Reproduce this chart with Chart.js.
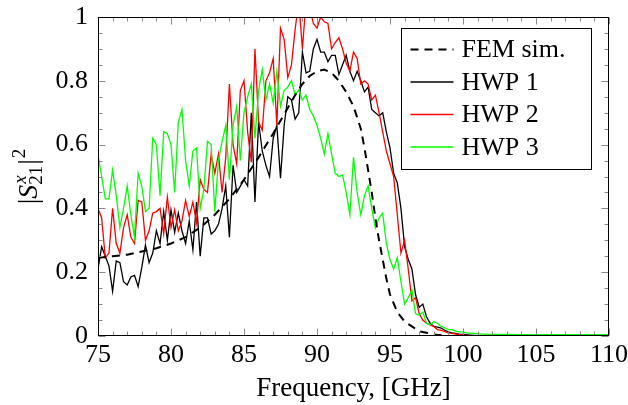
<!DOCTYPE html>
<html>
<head>
<meta charset="utf-8">
<script src="https://cdn.jsdelivr.net/npm/chart.js@4.4.1/dist/chart.umd.min.js"></script>
<style>
  html, body { margin: 0; padding: 0; background: #fff; }
  #wrap { width: 628px; height: 405px; }
</style>
</head>
<body>
<div id="wrap"><canvas id="s21_chart" width="628" height="405"></canvas></div>
<script>
// measured frequency grid, GHz
var freq = [
  75, 75.25, 75.5, 75.75, 76, 76.25, 76.5, 76.75, 77, 77.25, 77.5, 77.75,
  78, 78.25, 78.5, 78.75, 79, 79.25, 79.5, 79.75, 80, 80.25, 80.5, 80.75,
  81, 81.25, 81.5, 81.75, 82, 82.25, 82.5, 82.75, 83, 83.25, 83.5, 83.75,
  84, 84.25, 84.5, 84.75, 85, 85.25, 85.5, 85.75, 86, 86.25, 86.5, 86.75,
  87, 87.25, 87.5, 87.75, 88, 88.25, 88.5, 88.75, 89, 89.25, 89.5, 89.75,
  90, 90.25, 90.5, 90.75, 91, 91.25, 91.5, 91.75, 92, 92.25, 92.5, 92.75,
  93, 93.25, 93.5, 93.75, 94, 94.25, 94.5, 94.75, 95, 95.25, 95.5, 95.75,
  96, 96.25, 96.5, 96.75, 97, 97.25, 97.5, 97.75, 98, 98.25, 98.5, 98.75,
  99, 99.25, 99.5, 99.75, 100, 100.25, 100.5, 100.75, 101, 101.25, 101.5, 101.75,
  102, 103, 104, 105, 106, 107, 108, 109, 110
];

// |S21x|^2, HWP 1 (black)
var hwp1 = [
  0.21, 0.28, 0.25, 0.22, 0.14, 0.235, 0.23, 0.17, 0.16, 0.185, 0.19, 0.155,
  0.215, 0.285, 0.23, 0.26, 0.33, 0.29, 0.39, 0.30, 0.395, 0.325, 0.385, 0.33,
  0.29, 0.36, 0.27, 0.42, 0.25, 0.37, 0.37, 0.32, 0.33, 0.35, 0.40, 0.47,
  0.31, 0.535, 0.45, 0.47, 0.49, 0.47, 0.70, 0.42, 0.67, 0.58, 0.535, 0.50,
  0.62, 0.66, 0.495, 0.66, 0.75, 0.74, 0.68, 0.70, 0.89, 0.825, 0.83, 0.90,
  0.93, 0.89, 0.89, 0.86, 0.88, 0.88, 0.82, 0.85, 0.88, 0.83, 0.80, 0.83,
  0.80, 0.765, 0.78, 0.71, 0.70, 0.69, 0.70, 0.64, 0.59, 0.51, 0.48, 0.40,
  0.28, 0.24, 0.21, 0.13, 0.09, 0.10, 0.06, 0.04, 0.03, 0.028, 0.025, 0.018,
  0.013, 0.01, 0.008, 0.006, 0.005, 0.004, 0.003, 0.002, 0.001, 0, 0, 0,
  0, 0, 0, 0, 0, 0, 0, 0, 0
];

// HWP 2 (red)
var hwp2 = [
  0.40, 0.37, 0.245, 0.26, 0.40, 0.29, 0.26, 0.34, 0.38, 0.31, 0.29, 0.425,
  0.42, 0.30, 0.33, 0.385, 0.39, 0.40, 0.32, 0.435, 0.34, 0.395, 0.33, 0.36,
  0.425, 0.375, 0.42, 0.355, 0.49, 0.46, 0.45, 0.57, 0.51, 0.57, 0.45, 0.56,
  0.79, 0.60, 0.54, 0.77, 0.80, 0.64, 0.545, 0.90, 0.67, 0.645, 0.80, 0.825,
  0.87, 0.66, 0.965, 0.93, 0.81, 0.85, 0.96, 1.05, 0.90, 1.05, 1.03, 0.98,
  0.965, 1.0, 0.985, 0.98, 0.90, 0.92, 0.935, 0.90, 0.855, 0.83, 0.89, 0.87,
  0.79, 0.80, 0.79, 0.74, 0.755, 0.70, 0.64, 0.58, 0.54, 0.50, 0.38, 0.26,
  0.30, 0.21, 0.11, 0.12, 0.07, 0.05, 0.04, 0.035, 0.03, 0.02, 0.018, 0.014,
  0.01, 0.008, 0.006, 0.004, 0.003, 0.002, 0.001, 0, 0, 0, 0, 0,
  0, 0, 0, 0, 0, 0, 0, 0, 0
];

// HWP 3 (green)
var hwp3 = [
  0.567, 0.50, 0.43, 0.43, 0.52, 0.44, 0.34, 0.40, 0.47, 0.38, 0.31, 0.51,
  0.47, 0.39, 0.40, 0.62, 0.60, 0.44, 0.64, 0.635, 0.60, 0.45, 0.67, 0.71,
  0.55, 0.47, 0.58, 0.59, 0.40, 0.46, 0.61, 0.60, 0.39, 0.55, 0.61, 0.66,
  0.49, 0.66, 0.72, 0.55, 0.70, 0.75, 0.79, 0.62, 0.77, 0.835, 0.74, 0.79,
  0.73, 0.83, 0.72, 0.77, 0.78, 0.80, 0.755, 0.77, 0.74, 0.755, 0.71, 0.69,
  0.66, 0.62, 0.57, 0.635, 0.57, 0.51, 0.50, 0.505, 0.45, 0.38, 0.56, 0.45,
  0.38, 0.44, 0.47, 0.40, 0.34, 0.37, 0.385, 0.29, 0.24, 0.21, 0.245, 0.17,
  0.10, 0.12, 0.145, 0.07, 0.065, 0.075, 0.04, 0.035, 0.045, 0.04, 0.03, 0.025,
  0.02, 0.02, 0.015, 0.013, 0.012, 0.01, 0.009, 0.008, 0.007, 0.006, 0.006, 0.005,
  0.005, 0.005, 0.004, 0.004, 0.004, 0.004, 0.004, 0.004, 0.004
];

// FEM simulation (dashed)
var femFreq = [75, 76, 77, 78, 79, 80, 81, 82, 83, 84, 85, 86, 87, 88, 88.5, 89, 89.5, 90, 90.5,
  91, 91.5, 92, 92.5, 93, 93.25, 93.5, 93.75, 94, 94.25, 94.5, 94.75, 95, 95.5, 96, 96.5,
  97, 97.5, 98, 98.5, 99, 100, 110];
var femSim = [0.245, 0.25, 0.255, 0.265, 0.275, 0.29, 0.31, 0.34, 0.38, 0.43, 0.49, 0.56, 0.635,
  0.715, 0.755, 0.79, 0.815, 0.83, 0.835, 0.825, 0.80, 0.765, 0.72, 0.65, 0.59, 0.52, 0.45,
  0.37, 0.30, 0.24, 0.18, 0.13, 0.075, 0.045, 0.03, 0.015, 0.01, 0.005, 0.002, 0, 0, 0];

var seriesLabels = ['FEM sim.', 'HWP 1', 'HWP 2', 'HWP 3'];
var xTicks = [75, 80, 85, 90, 95, 100, 105, 110];
var yTicks = [0, 0.2, 0.4, 0.6, 0.8, 1];
var xTitle = 'Frequency, [GHz]';

var FONT = 'Liberation Serif';
var FSIZE = 26;

function toPoints(xs, ys) {
  var pts = [];
  for (var i = 0; i < xs.length; i++) pts.push({ x: xs[i], y: ys[i] });
  return pts;
}

// inward ticks on all four sides plus the frame (pgfplots look)
var frameTicks = {
  id: 'frameTicks',
  afterDatasetsDraw: function(chart) {
    var ctx = chart.ctx, a = chart.chartArea;
    var xs = chart.scales.x, ys = chart.scales.y;
    var L = Math.round(a.left) + 0.5, R = Math.round(a.right) - 0.5;
    var T = Math.round(a.top) + 0.5, B = Math.round(a.bottom) - 0.5;
    ctx.save();
    ctx.strokeStyle = '#8a8a8a';
    ctx.lineWidth = 1;
    ctx.beginPath();
    var v, px, len;
    for (v = xs.min; v <= xs.max + 1e-9; v += 1) {
      px = Math.round(xs.getPixelForValue(v)) + 0.5;
      len = (Math.abs(v % 5) < 1e-6) ? 7 : 4;
      ctx.moveTo(px, B); ctx.lineTo(px, B - len);
      ctx.moveTo(px, T); ctx.lineTo(px, T + len);
    }
    for (v = 0; v <= 1 + 1e-9; v += 0.05) {
      px = Math.round(ys.getPixelForValue(v)) + 0.5;
      len = (Math.abs(Math.round(v * 100) % 20) < 1e-6) ? 7 : 4;
      ctx.moveTo(L, px); ctx.lineTo(L + len, px);
      ctx.moveTo(R, px); ctx.lineTo(R - len, px);
    }
    ctx.stroke();
    ctx.strokeStyle = '#000';
    ctx.strokeRect(L, T, R - L, B - T);
    ctx.restore();
  }
};

// boxed legend inside the plot, top right
var boxLegend = {
  id: 'boxLegend',
  afterDraw: function(chart) {
    var ctx = chart.ctx, a = chart.chartArea;
    var bx = Math.round(a.right) - 208 + 0.5, by = Math.round(a.top) + 11 + 0.5;
    var bw = 190, bh = 141;
    ctx.save();
    ctx.fillStyle = '#fff';
    ctx.fillRect(bx, by, bw, bh);
    ctx.strokeStyle = '#000';
    ctx.lineWidth = 1;
    ctx.strokeRect(bx, by, bw, bh);
    ctx.font = FSIZE + 'px "' + FONT + '"';
    ctx.textBaseline = 'middle';
    ctx.textAlign = 'left';
    chart.data.datasets.forEach(function(ds, i) {
      var yy = by + 21 + i * 32.5;
      ctx.beginPath();
      ctx.strokeStyle = ds.borderColor;
      ctx.lineWidth = ds.borderWidth;
      ctx.setLineDash(ds.borderDash || []);
      ctx.moveTo(bx + 9, yy);
      ctx.lineTo(bx + 52, yy);
      ctx.stroke();
      ctx.setLineDash([]);
      ctx.fillStyle = '#000';
      ctx.fillText(ds.label, bx + 60, yy + 1);
    });
    ctx.restore();
  }
};

// rotated y title |S^x_21|^2
var yTitle = {
  id: 'yTitle',
  afterDraw: function(chart) {
    var ctx = chart.ctx, a = chart.chartArea;
    var big = 28, small = 19;
    var fN = big + 'px "' + FONT + '"', fI = 'italic ' + big + 'px "' + FONT + '"';
    var sN = small + 'px "' + FONT + '"', sI = 'italic ' + small + 'px "' + FONT + '"';
    ctx.save();
    ctx.font = fN; var wBar = ctx.measureText('|').width;
    ctx.font = fI; var wS = ctx.measureText('S').width;
    ctx.font = sI; var wx = ctx.measureText('x').width;
    ctx.font = sN; var w21 = ctx.measureText('21').width; var w2 = ctx.measureText('2').width;
    var wScript = Math.max(wx, w21) + 1;
    var total = wBar + wS + wScript + wBar + 1 + w2;
    ctx.translate(37, (a.top + a.bottom) / 2);
    ctx.rotate(-Math.PI / 2);
    ctx.fillStyle = '#000';
    ctx.textBaseline = 'alphabetic';
    var x = -total / 2;
    ctx.font = fN; ctx.fillText('|', x, 0); x += wBar;
    ctx.font = fI; ctx.fillText('S', x, 0); x += wS;
    ctx.font = sI; ctx.fillText('x', x + 1, -11);
    ctx.font = sN; ctx.fillText('21', x, 5); x += wScript;
    ctx.font = fN; ctx.fillText('|', x, 0); x += wBar + 1;
    ctx.font = sN; ctx.fillText('2', x, -12);
    ctx.restore();
  }
};

var chartCanvas = document.getElementById('s21_chart');
var s21Chart = new Chart(chartCanvas.getContext('2d'), {
  type: 'line',
  data: {
    datasets: [{
      label: seriesLabels[0],
      data: toPoints(femFreq, femSim),
      borderColor: '#000000',
      borderWidth: 2,
      borderDash: [8, 6],
      order: 0
    }, {
      label: seriesLabels[1],
      data: toPoints(freq, hwp1),
      borderColor: '#000000',
      borderWidth: 1.3,
      order: 3
    }, {
      label: seriesLabels[2],
      data: toPoints(freq, hwp2),
      borderColor: '#ff0000',
      borderWidth: 1.3,
      order: 2
    }, {
      label: seriesLabels[3],
      data: toPoints(freq, hwp3),
      borderColor: '#00ff00',
      borderWidth: 1.3,
      order: 1
    }]
  },
  options: {
    responsive: false,
    animation: false,
    devicePixelRatio: 1,
    layout: { padding: { left: 0, top: 17, right: 19, bottom: 0 } },
    elements: { point: { radius: 0 }, line: { tension: 0, fill: false } },
    plugins: { legend: { display: false }, tooltip: { enabled: false } },
    scales: {
      x: {
        type: 'linear',
        min: 75,
        max: 110,
        afterBuildTicks: function(s) { s.ticks = xTicks.map(function(v) { return { value: v }; }); },
        afterFit: function(s) { s.height = 69; s.paddingLeft = 0; s.paddingRight = 0; },
        grid: { display: false, drawTicks: false },
        border: { display: false },
        ticks: {
          font: { family: FONT, size: FSIZE },
          color: '#000',
          padding: 4,
          maxRotation: 0,
          autoSkip: false,
          callback: function(v) { return String(v); }
        },
        title: {
          display: true,
          text: xTitle,
          color: '#000',
          font: { family: FONT, size: FSIZE + 1 },
          padding: { top: 0, bottom: 0 }
        }
      },
      y: {
        min: 0,
        max: 1,
        afterBuildTicks: function(s) { s.ticks = yTicks.map(function(v) { return { value: v }; }); },
        afterFit: function(s) { s.width = 98; s.paddingTop = 0; s.paddingBottom = 0; },
        grid: { display: false, drawTicks: false },
        border: { display: false },
        ticks: {
          font: { family: FONT, size: FSIZE },
          color: '#000',
          padding: 10,
          autoSkip: false,
          callback: function(v) { return String(Math.round(v * 10) / 10); }
        }
      }
    }
  },
  plugins: [frameTicks, boxLegend, yTitle]
});
</script>
</body>
</html>
